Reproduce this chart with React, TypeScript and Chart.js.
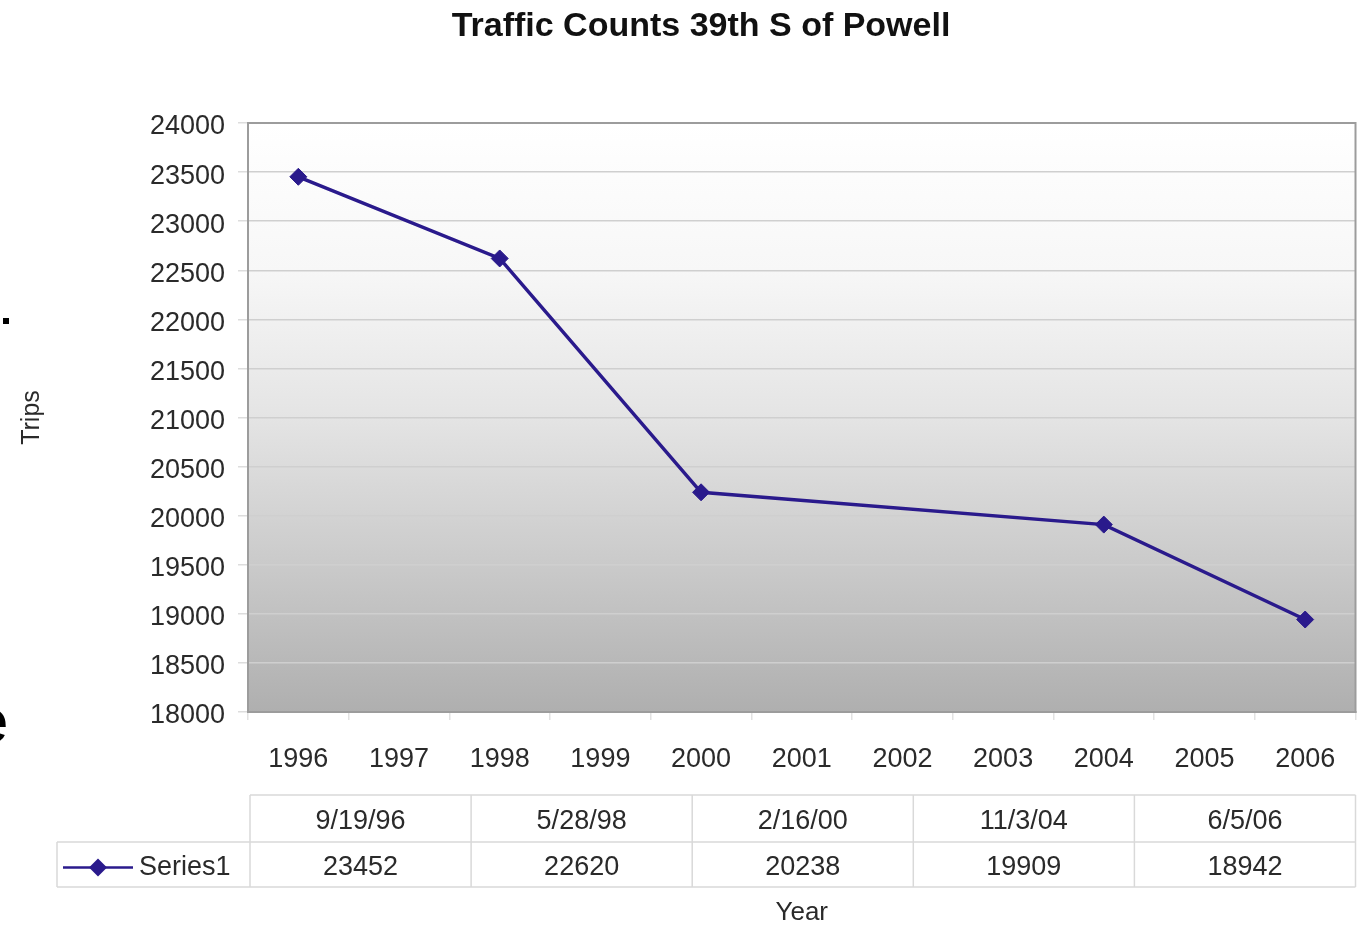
import React, { useEffect, useRef } from "react";
import { Chart, registerables } from "chart.js";

Chart.register(...registerables);

const TITLE = "Traffic Counts 39th S of Powell";
const Y_TITLE = "Trips";
const X_TITLE = "Year";
const SERIES_NAME = "Series1";

const categories = ["1996", "1997", "1998", "1999", "2000", "2001", "2002", "2003", "2004", "2005", "2006"];
const seriesValues: (number | null)[] = [23452, null, 22620, null, 20238, null, null, null, 19909, null, 18942];
const tableDates = ["9/19/96", "5/28/98", "2/16/00", "11/3/04", "6/5/06"];
const tableValues = [23452, 22620, 20238, 19909, 18942];

const Y_MIN = 18000;
const Y_MAX = 24000;
const Y_STEP = 500;

const LINE_COLOR = "#2a1a8c";
const TEXT_COLOR = "#2a2a2a";
const FONT = "'Liberation Sans', Arial, sans-serif";

const backgroundPlugin = {
  id: "bgGradient",
  beforeDraw(chart: any) {
    const { ctx, chartArea } = chart;
    const g = ctx.createLinearGradient(0, chartArea.top, 0, chartArea.bottom);
    g.addColorStop(0, "#ffffff");
    g.addColorStop(0.25, "#f7f7f7");
    g.addColorStop(0.5, "#e4e4e4");
    g.addColorStop(0.75, "#cacaca");
    g.addColorStop(1, "#afafaf");
    ctx.save();
    ctx.fillStyle = g;
    ctx.fillRect(chartArea.left, chartArea.top, chartArea.right - chartArea.left, chartArea.bottom - chartArea.top);
    ctx.restore();
  },
};

const framePlugin = {
  id: "frameAndTable",
  afterDatasetsDraw(chart: any) {
    const { ctx, chartArea } = chart;
    ctx.save();
    ctx.strokeStyle = "#9c9c9c";
    ctx.lineWidth = 2;
    ctx.strokeRect(chartArea.left, chartArea.top, chartArea.right - chartArea.left, chartArea.bottom - chartArea.top);
    ctx.restore();
  },
  afterDraw(chart: any) {
    const { ctx, chartArea } = chart;
    ctx.save();
    // title
    ctx.fillStyle = "#111";
    ctx.font = `bold 34px ${FONT}`;
    ctx.textAlign = "center";
    ctx.textBaseline = "middle";
    ctx.fillText(TITLE, 701, 27);

    // data table
    const left = chartArea.left + 2;
    const right = chartArea.right;
    const legendLeft = 57;
    const r0 = 795, r1 = 842, r2 = 887;
    const n = tableDates.length;
    const colW = (right - left) / n;
    ctx.strokeStyle = "#d9d9d9";
    ctx.lineWidth = 1.5;
    ctx.beginPath();
    ctx.moveTo(left, r0); ctx.lineTo(right, r0);
    ctx.moveTo(legendLeft, r1); ctx.lineTo(right, r1);
    ctx.moveTo(legendLeft, r2); ctx.lineTo(right, r2);
    ctx.moveTo(legendLeft, r1); ctx.lineTo(legendLeft, r2);
    for (let i = 0; i <= n; i++) {
      const x = left + colW * i;
      ctx.moveTo(x, r0); ctx.lineTo(x, r2);
    }
    ctx.stroke();

    ctx.fillStyle = TEXT_COLOR;
    ctx.font = `27px ${FONT}`;
    ctx.textAlign = "center";
    ctx.textBaseline = "middle";
    for (let i = 0; i < n; i++) {
      const cx = left + colW * (i + 0.5);
      ctx.fillText(tableDates[i], cx, (r0 + r1) / 2 + 3);
      ctx.fillText(String(tableValues[i]), cx, (r1 + r2) / 2 + 3);
    }

    // legend key
    const ly = (r1 + r2) / 2 + 3;
    ctx.strokeStyle = LINE_COLOR;
    ctx.lineWidth = 2.5;
    ctx.beginPath();
    ctx.moveTo(63, ly); ctx.lineTo(133, ly);
    ctx.stroke();
    ctx.fillStyle = LINE_COLOR;
    ctx.beginPath();
    ctx.moveTo(98, ly - 9); ctx.lineTo(107, ly); ctx.lineTo(98, ly + 9); ctx.lineTo(89, ly);
    ctx.closePath();
    ctx.fill();
    ctx.fillStyle = TEXT_COLOR;
    ctx.textAlign = "left";
    ctx.fillText(SERIES_NAME, 139, ly);
    ctx.restore();
  },
};

export default function App() {
  const ref = useRef<HTMLCanvasElement | null>(null);

  useEffect(() => {
    document.body.style.margin = "0";
    if (!ref.current) return;
    const chart = new Chart(ref.current, {
      type: "line",
      data: {
        labels: categories,
        datasets: [
          {
            label: SERIES_NAME,
            data: seriesValues,
            borderColor: LINE_COLOR,
            backgroundColor: LINE_COLOR,
            borderWidth: 3.5,
            pointStyle: "rectRot",
            pointRadius: 8.5,
            pointBorderWidth: 1,
            spanGaps: true,
            tension: 0,
          },
        ],
      },
      options: {
        animation: false,
        responsive: false,
        maintainAspectRatio: false,
        layout: { padding: { top: 123, right: 8, left: 0, bottom: 0 } },
        plugins: {
          legend: { display: false },
          title: { display: false },
          tooltip: { enabled: false },
        },
        scales: {
          x: {
            type: "category",
            offset: true,
            afterFit: (s: any) => { s.height = 214; },
            grid: {
              offset: true,
              drawOnChartArea: false,
              tickLength: 8,
              color: "#e2e2e2",
              lineWidth: 1.5,
            },
            border: { color: "#9c9c9c", width: 2 },
            ticks: {
              color: TEXT_COLOR,
              font: { family: FONT, size: 27, lineHeight: 1.2 },
              padding: 23,
              maxRotation: 0,
              autoSkip: false,
            },
            title: {
              display: true,
              text: X_TITLE,
              color: TEXT_COLOR,
              font: { family: FONT, size: 26, lineHeight: 1 },
              padding: { top: 0, bottom: 0 },
            },
          },
          y: {
            min: Y_MIN,
            max: Y_MAX,
            afterFit: (s: any) => { s.width = 248; },
            grid: {
              color: "#cfcfcf",
              lineWidth: 1.5,
              tickLength: 10,
              tickColor: "#dddddd",
            },
            border: { color: "#9c9c9c", width: 2 },
            ticks: {
              stepSize: Y_STEP,
              color: TEXT_COLOR,
              font: { family: FONT, size: 27 },
              padding: 13,
              labelOffset: 4,
              callback: (v: any) => String(v),
            },
            title: {
              display: true,
              text: Y_TITLE,
              color: TEXT_COLOR,
              font: { family: FONT, size: 25, lineHeight: 1 },
              padding: { top: 20, bottom: 0 },
            },
          },
        },
      },
      plugins: [backgroundPlugin, framePlugin],
    } as any);
    return () => chart.destroy();
  }, []);

  return (
    <div style={{ position: "fixed", left: 0, top: 0, width: 1365, height: 926, background: "#fff", overflow: "hidden" }}>
      <canvas ref={ref} width={1365} height={926} style={{ display: "block", width: 1365, height: 926 }} />
      <div style={{ position: "absolute", left: 3, top: 318, width: 6, height: 6, background: "#000" }} />
      <span
        style={{
          position: "absolute",
          left: -26,
          top: 690,
          fontFamily: FONT,
          fontSize: 62,
          lineHeight: 1,
          color: "#000",
        }}
      >
        e
      </span>
    </div>
  );
}
